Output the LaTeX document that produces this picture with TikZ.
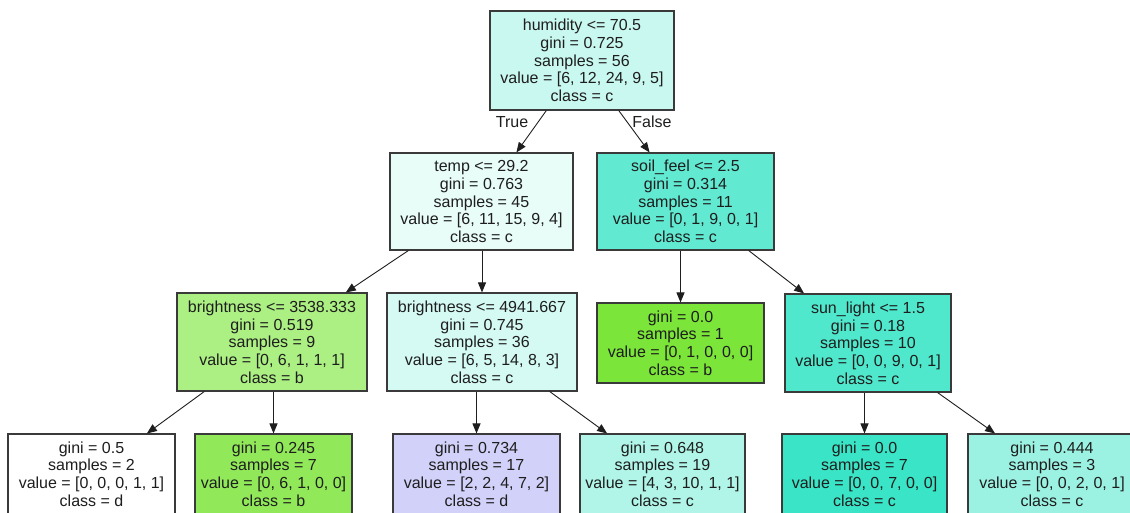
\documentclass[tikz,border=0pt]{standalone}
\usepackage{fontspec}
\setmainfont{Liberation Sans}
\usetikzlibrary{arrows.meta}
\definecolor{txt}{HTML}{1E1E1E}
\definecolor{bord}{HTML}{3A3A3A}
\definecolor{cRoot}{RGB}{201,248,240}
\definecolor{cTemp}{RGB}{232,252,248}
\definecolor{cSoil}{RGB}{97,234,209}
\definecolor{cBa}{RGB}{172,239,131}
\definecolor{cBb}{RGB}{213,249,243}
\definecolor{cG}{RGB}{123,229,57}
\definecolor{cSun}{RGB}{79,232,204}
\definecolor{cLb}{RGB}{145,233,90}
\definecolor{cLc}{RGB}{210,209,249}
\definecolor{cLd}{RGB}{176,245,232}
\definecolor{cLe}{RGB}{57,229,198}
\definecolor{cLf}{RGB}{156,242,226}
\tikzset{
  tn/.style={draw=bord, line width=1.1pt, rectangle, inner sep=0pt, align=center,
    font=\fontsize{16}{17.7}\selectfont, text=txt},
  inner/.style={tn, minimum height=98},
  leaf/.style={tn, minimum height=80},
  edge/.style={draw=txt, line width=0.9pt, -{Triangle[length=10pt,width=8pt]}},
  lbl/.style={font=\fontsize{16}{18}\selectfont, text=txt, inner sep=0pt}
}
\begin{document}
\begin{tikzpicture}[x=1pt,y=-1pt]
\useasboundingbox (0,0) rectangle (1130,512);
\clip (0,0) rectangle (1130,512);
\fill[white] (0,0) rectangle (1130,512);
% level 0
\node[inner, fill=cRoot, minimum width=184, minimum height=99] (root) at (582,60.5)
  {humidity <= 70.5\\gini = 0.725\\samples = 56\\value = [6, 12, 24, 9, 5]\\class = c};
% level 1
\node[inner, fill=cTemp, minimum width=183, minimum height=97] (temp) at (481.5,201.5)
  {temp <= 29.2\\gini = 0.763\\samples = 45\\value = [6, 11, 15, 9, 4]\\class = c};
\node[inner, fill=cSoil, minimum width=177, minimum height=97] (soil) at (685.5,201.5)
  {soil\_feel <= 2.5\\gini = 0.314\\samples = 11\\value = [0, 1, 9, 0, 1]\\class = c};
% level 2
\node[inner, fill=cBa, minimum width=190] (b1) at (272,342)
  {brightness <= 3538.333\\gini = 0.519\\samples = 9\\value = [0, 6, 1, 1, 1]\\class = b};
\node[inner, fill=cBb, minimum width=190] (b2) at (482,342)
  {brightness <= 4941.667\\gini = 0.745\\samples = 36\\value = [6, 5, 14, 8, 3]\\class = c};
\node[leaf, fill=cG, minimum width=167] (g) at (680.5,343)
  {gini = 0.0\\samples = 1\\value = [0, 1, 0, 0, 0]\\class = b};
\node[inner, fill=cSun, minimum width=166] (sun) at (868,343)
  {sun\_light <= 1.5\\gini = 0.18\\samples = 10\\value = [0, 0, 9, 0, 1]\\class = c};
% level 3
\node[leaf, fill=white, minimum width=167] (l1) at (91.5,474)
  {gini = 0.5\\samples = 2\\value = [0, 0, 0, 1, 1]\\class = d};
\node[leaf, fill=cLb, minimum width=157] (l2) at (273.5,474)
  {gini = 0.245\\samples = 7\\value = [0, 6, 1, 0, 0]\\class = b};
\node[leaf, fill=cLc, minimum width=167] (l3) at (476.5,474)
  {gini = 0.734\\samples = 17\\value = [2, 2, 4, 7, 2]\\class = d};
\node[leaf, fill=cLd, minimum width=165] (l4) at (662.5,474)
  {gini = 0.648\\samples = 19\\value = [4, 3, 10, 1, 1]\\class = c};
\node[leaf, fill=cLe, minimum width=165] (l5) at (864.5,474)
  {gini = 0.0\\samples = 7\\value = [0, 0, 7, 0, 0]\\class = c};
\node[leaf, fill=cLf, minimum width=168] (l6) at (1052,474)
  {gini = 0.444\\samples = 3\\value = [0, 0, 2, 0, 1]\\class = c};
% edges
\draw[edge] (root) -- (temp);
\draw[edge] (root) -- (soil);
\draw[edge] (temp) -- (b1);
\draw[edge] (temp.south -| b2.north) -- (b2);
\draw[edge] (soil.south -| g.north) -- (g);
\draw[edge] (soil) -- (sun);
\draw[edge] (b1) -- (l1);
\draw[edge] (b1.south -| l2.north) -- (l2);
\draw[edge] (b2.south -| l3.north) -- (l3);
\draw[edge] (b2) -- (l4);
\draw[edge] (sun.south -| l5.north) -- (l5);
\draw[edge] (sun) -- (l6);
% labels
\node[lbl] (tl) at (512,122) {True};
\node[lbl] (fl) at (652,122) {False};
\end{tikzpicture}
\end{document}
